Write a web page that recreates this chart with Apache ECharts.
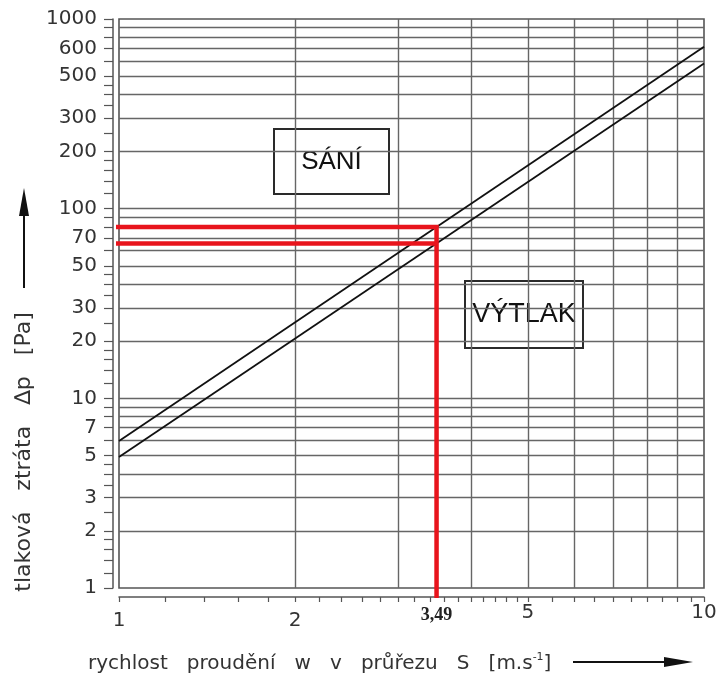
<!DOCTYPE html>
<html>
<head>
<meta charset="utf-8">
<script src="https://cdn.jsdelivr.net/npm/echarts@6/dist/echarts.min.js"></script>
<style>
  html, body { margin: 0; padding: 0; background: #fff; }
  #chart { width: 722px; height: 679px; }
</style>
</head>
<body>
<div id="chart"></div>
<script>
// velocity w [m/s] and pressure loss dp [Pa]
const velocity = [1, 10];
const saniLoss = [5.96, 713];
const vytlakLoss = [4.9, 583];

// reading at w = 3.49
const readVelocity = 3.49;
const readSani = 80;
const readVytlak = 65.5;
const readLeftEdge = 0.973;   // red lines start a bit left of the frame
const readBottomEdge = 0.886; // and run down to the x axis line

// grid lines
const xGridValues = [2, 3, 4, 5, 6, 7, 8, 9];
const yGridValues = [2, 3, 4, 5, 6, 7, 8, 9, 10, 20, 30, 40, 50, 60, 70, 80, 90, 100,
  200, 300, 400, 500, 600, 700, 800, 900];

// ticks
const xTickValues = [1, 1.2, 1.4, 1.6, 1.8, 2, 2.2, 2.4, 2.6, 2.8, 3, 3.2, 3.4, 3.6, 3.8,
  4, 4.2, 4.4, 4.6, 4.8, 5, 5.5, 6, 6.5, 7, 7.5, 8, 8.5, 9, 9.5, 10];
const yTickMantissa = [1, 1.2, 1.4, 1.6, 1.8, 2, 2.5, 3, 3.5, 4, 4.5, 5, 6, 7, 8, 9];
const yTickValues = [1, 10, 100].flatMap(d => yTickMantissa.map(m => +(m * d).toFixed(3))).concat([1000]);

// labels
const xLabelValues = [1, 2, 3.49, 5, 10];
const xLabelText = ['1', '2', '3,49', '5', '10'];
const yLabelValues = [1, 2, 3, 5, 7, 10, 20, 30, 50, 70, 100, 200, 300, 500, 700, 1000];
const yLabelText = ['1', '2', '3', '5', '7', '10', '20', '30', '50', '70', '100', '200', '300', '500', '600', '1000'];

const chart = echarts.init(document.getElementById('chart'));

const gridColor = '#666';
const labelFont = 'DejaVu Sans';

const option = {
  backgroundColor: '#fff',
  animation: false,
  grid: {
    left: 119, top: 19, right: 18, bottom: 91,
    show: true, borderColor: '#555', borderWidth: 1.6
  },
  xAxis: [
    {
      type: 'log', logBase: 10, min: 1, max: 10,
      axisLine: { show: false },
      axisTick: { show: false, customValues: xGridValues },
      axisLabel: { show: false },
      splitLine: { show: true, lineStyle: { color: gridColor, width: 1.4 } }
    },
    {
      type: 'log', logBase: 10, min: 1, max: 10, position: 'bottom', offset: 9,
      axisLine: { show: true, lineStyle: { color: '#555', width: 1.5 } },
      axisTick: { show: true, inside: false, length: 5, customValues: xTickValues,
        lineStyle: { color: '#555', width: 1.2 } },
      axisLabel: {
        customValues: xLabelValues, margin: 6, color: '#333',
        fontFamily: labelFont, fontSize: 20,
        formatter: v => {
          const i = xLabelValues.findIndex(x => Math.abs(x - v) < 1e-6);
          const t = i >= 0 ? xLabelText[i] : '';
          if (t === '3,49') return '{b|' + t + '}';
          if (v < 3) return '{lo|' + t + '}';
          return t;
        },
        rich: {
          b: { fontFamily: 'Liberation Serif', fontWeight: 'bold', fontSize: 18, color: '#222', padding: [3, 0, 0, 0] },
          lo: { fontFamily: labelFont, fontSize: 20, color: '#333', padding: [8, 0, 0, 0] }
        }
      },
      splitLine: { show: false }
    }
  ],
  yAxis: [
    {
      type: 'log', logBase: 10, min: 1, max: 1000,
      axisLine: { show: false },
      axisTick: { show: false, customValues: yGridValues },
      axisLabel: { show: false },
      splitLine: { show: true, lineStyle: { color: gridColor, width: 1.4 } }
    },
    {
      type: 'log', logBase: 10, min: 1, max: 1000, position: 'left', offset: 6,
      axisLine: { show: true, lineStyle: { color: '#555', width: 1.5 } },
      axisTick: { show: true, inside: false, length: 9, customValues: yTickValues,
        lineStyle: { color: '#555', width: 1.2 } },
      axisLabel: {
        customValues: yLabelValues, margin: 16, color: '#333',
        fontFamily: labelFont, fontSize: 20,
        formatter: v => {
          const i = yLabelValues.findIndex(y => Math.abs(y - v) < 1e-6);
          return i >= 0 ? yLabelText[i] : '';
        }
      },
      splitLine: { show: false }
    }
  ],
  series: [
    {
      name: 'SÁNÍ', type: 'line', xAxisIndex: 0, yAxisIndex: 0,
      data: velocity.map((w, i) => [w, saniLoss[i]]),
      showSymbol: false, lineStyle: { color: '#111', width: 1.8 }, z: 3
    },
    {
      name: 'VÝTLAK', type: 'line', xAxisIndex: 0, yAxisIndex: 0,
      data: velocity.map((w, i) => [w, vytlakLoss[i]]),
      showSymbol: false, lineStyle: { color: '#111', width: 1.8 }, z: 3
    },
    {
      type: 'line', xAxisIndex: 0, yAxisIndex: 0, clip: false,
      data: [[readLeftEdge, readSani], [readVelocity, readSani], [readVelocity, readBottomEdge]],
      showSymbol: false, lineStyle: { color: '#e8141c', width: 4.5, join: 'miter' }, z: 4
    },
    {
      type: 'line', xAxisIndex: 0, yAxisIndex: 0, clip: false,
      data: [[readLeftEdge, readVytlak], [readVelocity, readVytlak]],
      showSymbol: false, lineStyle: { color: '#e8141c', width: 4.5 }, z: 4
    }
  ],
  graphic: [
    {
      type: 'group', left: 273, top: 128, z: 10,
      children: [
        { type: 'rect', shape: { x: 0, y: 0, width: 115, height: 65 },
          style: { fill: '#fff', stroke: '#2a2a2a', lineWidth: 2 } },
        { type: 'text', x: 57.5, y: 33,
          style: { text: 'SÁNÍ', font: '500 26px "Liberation Sans"', fill: '#111', align: 'center', verticalAlign: 'middle' } }
      ]
    },
    {
      type: 'group', left: 464, top: 280, z: 10,
      children: [
        { type: 'rect', shape: { x: 0, y: 0, width: 118, height: 67 },
          style: { fill: '#fff', stroke: '#2a2a2a', lineWidth: 2 } },
        { type: 'text', x: 59, y: 34,
          style: { text: 'VÝTLAK', font: '500 27px "Liberation Sans"', fill: '#111', align: 'center', verticalAlign: 'middle' } }
      ]
    },
    // y axis name and arrow
    {
      type: 'text', x: 24, y: 452, rotation: Math.PI / 2, z: 10,
      style: { text: 'tlaková   ztráta   ∆p   [Pa]', font: '22px "DejaVu Sans"', fill: '#333',
        align: 'center', verticalAlign: 'middle' }
    },
    {
      type: 'line', z: 10, shape: { x1: 24, y1: 210, x2: 24, y2: 288 },
      style: { stroke: '#111', lineWidth: 2 }
    },
    {
      type: 'polygon', z: 10, shape: { points: [[24, 188], [19, 216], [29, 216]] },
      style: { fill: '#111' }
    },
    // x axis name and arrow
    {
      type: 'text', x: 88, y: 664, z: 10,
      style: {
        text: '{a|rychlost   proudění   w   v   průřezu   S   [m.s}{s|-1}{a|]}',
        fill: '#333', align: 'left', verticalAlign: 'middle',
        rich: {
          a: { fontFamily: 'DejaVu Sans', fontSize: 20, fill: '#333', height: 26 },
          s: { fontFamily: 'DejaVu Sans', fontSize: 11, fill: '#333', verticalAlign: 'top', height: 26, padding: [0, 0, 14, 0] }
        }
      }
    },
    {
      type: 'line', z: 10, shape: { x1: 573, y1: 662, x2: 670, y2: 662 },
      style: { stroke: '#111', lineWidth: 2 }
    },
    {
      type: 'polygon', z: 10, shape: { points: [[693, 662], [664, 657], [664, 667]] },
      style: { fill: '#111' }
    }
  ]
};

chart.setOption(option);
</script>
</body>
</html>
